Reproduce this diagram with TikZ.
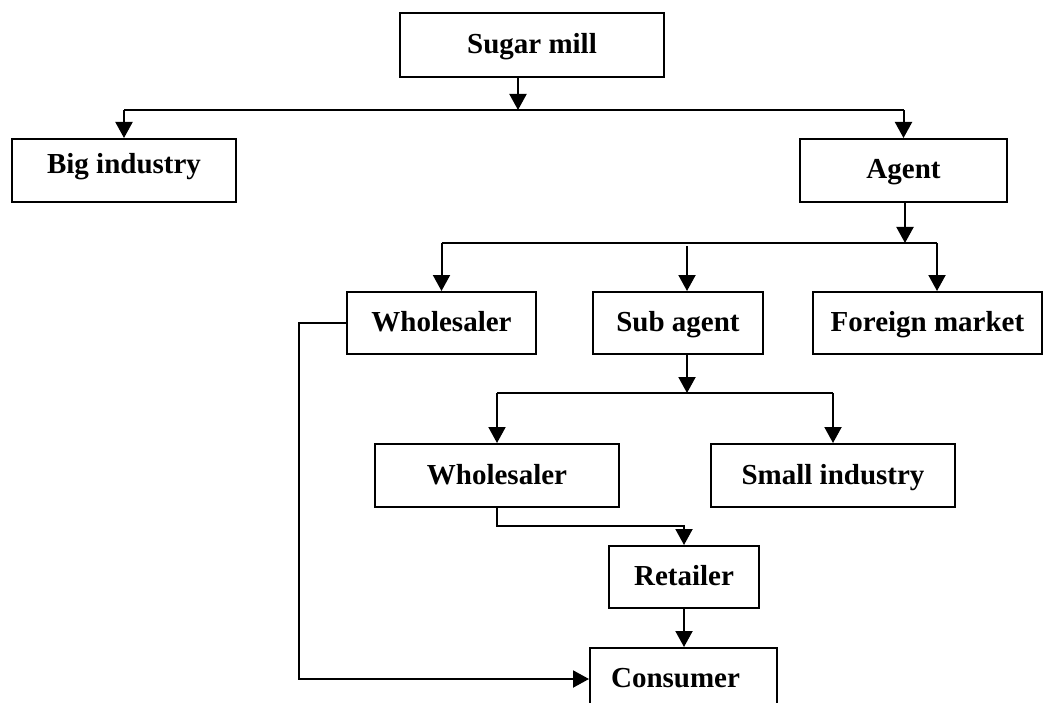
\documentclass[tikz,border=0pt]{standalone}
\usepackage{fontspec}
\setmainfont{Liberation Serif}
\usetikzlibrary{arrows.meta}
\begin{document}
\begin{tikzpicture}[x=1pt,y=-1pt,
  box/.style={draw,line width=2pt,inner sep=0pt,
    font=\fontsize{29}{34}\selectfont\bfseries,
    text height=20pt,text depth=3pt},
  link/.style={line width=2pt},
  arr/.style={line width=2pt,-{Triangle[length=16pt,width=17pt]}}]
\useasboundingbox (0,0) rectangle (1046,703);
\clip (0,0) rectangle (1046,703);

% boxes
\node[box,minimum width=264pt,minimum height=64pt] (sugar)    at (532,45)    {Sugar mill};
\node[box,minimum width=224pt,minimum height=63pt,text depth=13pt] (big) at (124,170.5) {Big industry};
\node[box,minimum width=207pt,minimum height=63pt] (agent)    at (903.5,170.5) {Agent};
\node[box,minimum width=189pt,minimum height=62pt] (whole1)   at (441.5,323) {Wholesaler};
\node[box,minimum width=170pt,minimum height=62pt] (sub)      at (678,323)   {Sub agent};
\node[box,minimum width=229pt,minimum height=62pt] (foreign)  at (927.5,323) {Foreign market};
\node[box,minimum width=244pt,minimum height=63pt] (whole2)   at (497,475.5) {Wholesaler};
\node[box,minimum width=244pt,minimum height=63pt] (small)    at (833,475.5) {Small industry};
\node[box,minimum width=150pt,minimum height=62pt] (retailer) at (684,577)   {Retailer};
\node[box,minimum width=187pt,minimum height=62pt] (consumer) at (683.5,679) {Consumer\hspace*{16pt}};

% branch points
\coordinate (b1) at (518,110);
\coordinate (b2) at (905,243);
\coordinate (s2) at (687,243);
\coordinate (f2) at (937,243);
\coordinate (b3) at (687,393);
\coordinate (r1) at (684,526);
\coordinate (c1) at (299,679);

% sugar mill -> big industry / agent
\draw[arr] (sugar.south -| b1) -- (b1);
\draw[arr] (b1 -| big.north) -- (big.north);
\draw[link] (b1 -| big.north) -- (b1 -| agent.north);
\draw[arr] (b1 -| agent.north) -- (agent.north);

% agent -> wholesaler / sub agent / foreign market
\draw[arr] (agent.south -| b2) -- (b2);
\draw[link] (b2 -| whole1.north) -- (f2);
\draw[arr] (b2 -| whole1.north) -- (whole1.north);
\draw[arr] ([yshift=-3pt]s2) -- (s2 |- sub.north);
\draw[arr] (f2) -- (f2 |- foreign.north);

% sub agent -> wholesaler / small industry
\draw[arr] (sub.south -| b3) -- (b3);
\draw[link] (b3 -| whole2.north) -- (b3 -| small.north);
\draw[arr] (b3 -| whole2.north) -- (whole2.north);
\draw[arr] (b3 -| small.north) -- (small.north);

% wholesaler -> retailer -> consumer
\draw[arr] (whole2.south) |- (r1) -- (retailer.north);
\draw[arr] (retailer.south) -- (consumer.north -| retailer.south);

% wholesaler straight to consumer
\draw[arr] (whole1.west) -| (c1) -- (c1 -| consumer.west);
\end{tikzpicture}
\end{document}
